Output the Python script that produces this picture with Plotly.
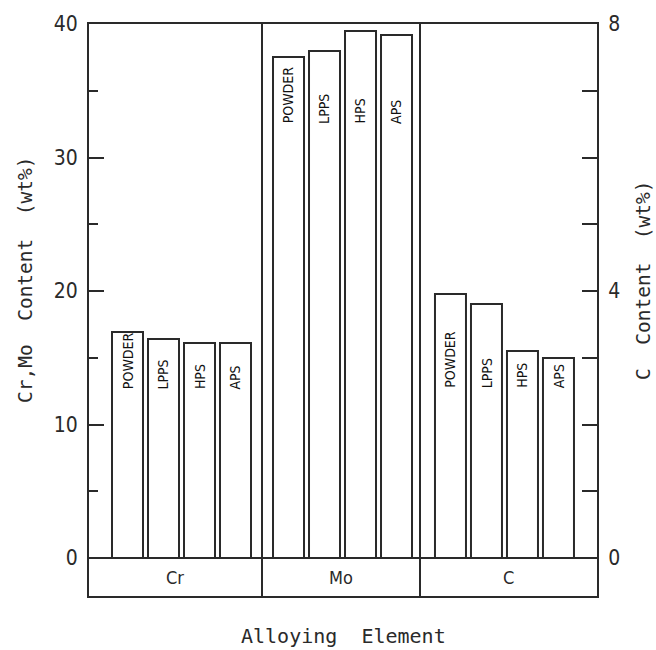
import plotly.graph_objects as go

# ---- data ----
elements = ["Cr", "Mo", "C"]
processes = ["POWDER", "LPPS", "HPS", "APS"]
cr_values = [16.9, 16.4, 16.1, 16.1]
mo_values = [37.5, 38.0, 39.5, 39.2]
c_values = [3.95, 3.80, 3.10, 3.00]
left_ticks = [0, 10, 20, 30, 40]
right_ticks = [0, 1, 2, 3, 4, 5, 6, 7, 8]
right_ticktext = ["0", "", "", "", "4", "", "", "", "8"]

# ---- style / layout constants ----
INK = "#2a2a2a"
NARROW = "DejaVu Sans Condensed, Liberation Sans Narrow, Arial Narrow, sans-serif"
MONO = "DejaVu Sans Mono, Liberation Mono, monospace"
W, H = 656, 650
L, R, T, B = 89, 59, 24, 54
domains = [[0.0, 0.3386], [0.3386, 0.6535], [0.6535, 1.0]]
xranges = [[-1.07, 3.71], [-0.76, 3.68], [-0.82, 4.07]]
left_range = [-2.846, 40]
right_range = [-0.569, 8]
label_base = [12.5, 32.4, 2.52]   # where the rotated bar labels start (axis units)
bar_width = 0.88

series = [cr_values, mo_values, c_values]
yrefs = ["y", "y2", "y3"]

fig = go.Figure()
for i, vals in enumerate(series):
    fig.add_trace(go.Bar(
        x=processes, y=vals, width=bar_width,
        marker=dict(color="white", line=dict(color=INK, width=2)),
        xaxis="x" if i == 0 else f"x{i+1}",
        yaxis=yrefs[i], showlegend=False,
        name=elements[i],
    ))

annotations = []
for i, vals in enumerate(series):
    xr = "x" if i == 0 else f"x{i+1}"
    for p in processes:
        annotations.append(dict(
            x=p, y=label_base[i], xref=xr, yref=yrefs[i],
            text=p, textangle=-90, showarrow=False,
            xanchor="center", yanchor="bottom",
            font=dict(family=NARROW, size=14, color="#111"),
        ))
    annotations.append(dict(
        x=0.5, y=19 / 572, xref=f"{xr} domain", yref="paper",
        text=elements[i], showarrow=False,
        xanchor="center", yanchor="middle",
        font=dict(family=NARROW, size=18, color=INK),
    ))

annotations += [
    dict(x=0.5, y=0, xref="paper", yref="paper", yshift=-40,
         text="Alloying  Element", showarrow=False,
         xanchor="center", yanchor="middle",
         font=dict(family=MONO, size=20, color=INK)),
    dict(x=0, y=0.5524, xref="paper", yref="paper", xshift=-64,
         text="Cr,Mo  Content  (wt%)", showarrow=False, textangle=-90,
         xanchor="center", yanchor="middle",
         font=dict(family=MONO, size=19.5, color=INK)),
    dict(x=1, y=0.5524, xref="paper", yref="paper", xshift=46,
         text="C  Content  (wt%)", showarrow=False, textangle=-90,
         xanchor="center", yanchor="middle",
         font=dict(family=MONO, size=19.5, color=INK)),
]

axis_line = dict(showline=True, linecolor=INK, linewidth=2, mirror=True,
                 showgrid=False, zeroline=False)

layout = dict(
    width=W, height=H,
    margin=dict(l=L, r=R, t=T, b=B, pad=0),
    paper_bgcolor="white", plot_bgcolor="white",
    bargap=0,
    annotations=annotations,
    shapes=[dict(type="line", xref="paper", yref="y", x0=0, x1=1, y0=0, y1=0,
                 line=dict(color=INK, width=2))],
)
for i in range(3):
    key = "xaxis" if i == 0 else f"xaxis{i+1}"
    layout[key] = dict(axis_line, domain=domains[i], range=xranges[i],
                       anchor="y" if i == 0 else f"y{i+1}",
                       showticklabels=False, ticks="", type="category")

layout["yaxis"] = dict(axis_line, anchor="x", range=left_range, domain=[0, 1],
                       tickvals=left_ticks, ticks="inside", ticklen=15,
                       tickwidth=2, tickcolor=INK,
                       minor=dict(dtick=5, tick0=0, ticks="inside", ticklen=9,
                                  tickwidth=2, tickcolor=INK, showgrid=False),
                       tickfont=dict(family=NARROW, size=21, color=INK),
                       ticklabelstandoff=5)
layout["yaxis2"] = dict(axis_line, anchor="x2", range=left_range, domain=[0, 1],
                        showline=False, showticklabels=False, ticks="")
layout["yaxis3"] = dict(axis_line, anchor="x3", range=right_range, domain=[0, 1],
                        side="right", tickvals=right_ticks, ticktext=right_ticktext,
                        ticks="inside", ticklen=15, tickwidth=2, tickcolor=INK,
                        tickfont=dict(family=NARROW, size=21, color=INK),
                        ticklabelstandoff=5)

fig.update_layout(**layout)
fig.write_html("out.html")
